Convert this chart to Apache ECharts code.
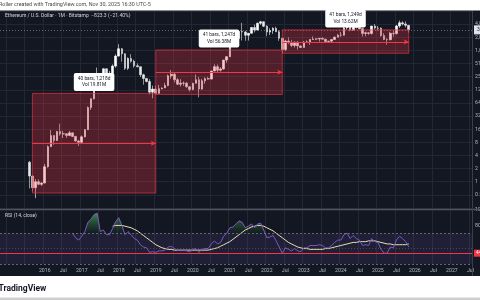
<!DOCTYPE html>
<html><head><meta charset="utf-8">
<script src="https://cdn.jsdelivr.net/npm/echarts@6/dist/echarts.min.js"></script>
<style>html,body{margin:0;padding:0;background:#fff}#c{width:480px;height:300px}</style>
</head><body><div id="c"></div>
<script>
// ---- data (monthly ETH/USD, first bar Aug 2015) ----
const firstYear = 2015, firstMonthNum = 8;
// [open, close, low, high]
const ohlc2015 = [[2.80,1.35,0.70,3.00],[1.35,0.73,0.60,1.40],[0.73,1.00,0.42,1.15],[1.00,0.87,0.83,1.13],[0.87,0.93,0.80,0.98]];
const ohlc2016 = [[0.93,2.21,0.93,2.55],[2.21,6.36,2.10,6.80],[6.36,11.4,6.30,15.3],[11.4,8.80,7.00,11.6],[8.80,14.1,8.70,14.6],[14.1,12.5,11.3,21.5],[12.5,12.6,10.0,14.7],[12.6,11.4,10.1,12.7],[11.4,13.2,11.1,14.6],[13.2,10.9,10.5,13.3],[10.9,8.6,8.3,11.3],[8.6,8.0,6.6,9.1]];
const ohlc2017 = [[8.0,10.7,7.9,11.5],[10.7,15.6,10.4,16.0],[15.6,50,15.5,53],[50,80,44,81],[80,230,77,230],[230,293,216,414],[293,201,130,296],[201,388,190,400],[388,302,200,395],[302,305,287,348],[305,447,288,490],[447,757,410,830]];
const ohlc2018 = [[757,1118,740,1420],[1118,856,565,1160],[856,397,365,880],[397,670,365,710],[670,577,535,840],[577,455,410,625],[455,433,420,515],[433,283,250,435],[283,233,168,300],[233,198,190,240],[198,113,100,225],[113,133,82,160]];
const ohlc2019 = [[133,106,101,160],[106,136,102,165],[136,141,131,145],[141,160,140,185],[160,268,155,287],[268,291,230,362],[291,218,190,316],[218,172,164,240],[172,181,152,225],[181,182,158,198],[182,151,141,192],[151,130,117,154]];
const ohlc2020 = [[130,180,125,186],[180,218,180,288],[218,133,86,253],[133,206,128,227],[206,231,176,247],[231,225,216,255],[225,346,224,348],[346,434,340,490],[434,360,309,488],[360,386,335,421],[386,615,373,622],[615,737,535,755]];
const ohlc2021 = [[737,1314,717,1475],[1314,1417,1300,2040],[1417,1918,1435,1945],[1918,2773,1930,2795],[2773,2710,1730,4380],[2710,2275,1700,2890],[2275,2535,1720,2550],[2535,3430,2450,3470],[3430,3000,2650,4020],[3000,4290,2970,4460],[4290,4630,3960,4870],[4630,3680,3510,4780]];
const ohlc2022 = [[3680,2690,2160,3870],[2690,2920,2300,3280],[2920,3280,2450,3480],[3280,2730,2720,3580],[2730,1940,1700,2960],[1940,1070,880,1970],[1070,1680,1000,1780],[1680,1550,1420,2030],[1550,1330,1220,1790],[1330,1570,1190,1660],[1570,1295,1070,1680],[1295,1196,1160,1350]];
const ohlc2023 = [[1196,1585,1190,1680],[1585,1605,1530,1740],[1605,1822,1370,1850],[1822,1870,1780,2140],[1870,1875,1760,1930],[1875,1935,1625,1930],[1935,1855,1830,2030],[1855,1645,1550,1870],[1645,1670,1530,1670],[1670,1815,1520,1865],[1815,2050,1770,2140],[2050,2280,2040,2440]];
const ohlc2024 = [[2280,2285,2100,2715],[2285,3340,2240,3520],[3340,3600,3060,4090],[3600,3010,2810,3730],[3010,3760,2860,3980],[3760,3430,3250,3880],[3430,3230,3090,3560],[3230,2510,2120,3280],[2510,2600,2150,2730],[2600,2510,2300,2720],[2510,3700,2360,3730],[3700,3330,3100,4110]];
const ohlc2025 = [[3330,3300,2920,3740],[3300,2240,2100,3430],[2240,1820,1760,2550],[1820,1795,1385,1950],[1795,2530,1750,2740],[2530,2490,2110,2880],[2490,3700,2370,3940],[3700,4390,3350,4950],[4390,4145,3820,4770],[4145,3850,3435,4750],[3850,3027,2620,3920]];

// RSI(14, close) per month from Aug 2015 (null before first value)
const rsiValues = [null,null,null,null,null,null,null,null,null,null,null,null,null,null,
  70,64,61, 66,72,84,88,94,96,72,74,68,68,76,85, 90,80,68,72,68,63,61,55,52,51,45,46,
  45,47,47,48,52,53,50,48,48,48,47,46, 49,50,45,49,50,50,56,60,56,58,66,70,
  77,78,82,86,84,77,79,82,77,82,83,74, 64,65,67,60,52,44,51,49,47,50,47,46,
  51,51,54,54,54,55,54,51,51,54,58,61, 61,68,70,63,67,63,61,54,55,54,63,59,
  58,49,44,44,52,51,61,66,63,59,52];
// RSI-based moving average per month from Aug 2015
const rsiMAValues = [null,null,null,null,null,null,null,null,null,null,null,null,null,null,
  null,null,null,null,null,null,null,null,null,null,null,null,null,
  79,80,80,80,79,78,77,75,73,70,67,64,61,58,55,53,51,50,49,49,48,48,48,48,48,48,48,48,48,48,48,48,
  49,50,51,53,55,57,59,62,65,68,71,74,76,78,79,80,80,79,77,75,73,70,67,64,61,58,56,54,52,51,
  50,50,49,49,49,49,49,50,50,51,52,53,54,55,56,57,58,58,59,59,59,60,60,60,59,58,57,56,56,55,55,55,55,55,56];

const rsiLevels = [70, 50, 30];
const userLevel = 44;
const lastPrice = 3027;
const boxes = [
  {start:'2015-09', end:'2019-01', low:0.55, high:106, mid:7.6, text:'40 bars, 1,218d\nVol 19.81M'},
  {start:'2019-01', end:'2022-06', low:100, high:1050, mid:324, text:'41 bars, 1,247d\nVol 56.38M'},
  {start:'2022-06', end:'2025-11', low:880, high:3027, mid:1600, text:'41 bars, 1,249d\nVol 13.62M'}
];
const titleText = 'Ethereum / U.S. Dollar · 1M · Bitstamp  −823.3 (−21.40%)';
const creditText = 'Roller created with TradingView.com, Nov 30, 2025 16:30 UTC-5';

// ---- build ----
const ohlc = [].concat(ohlc2015, ohlc2016, ohlc2017, ohlc2018, ohlc2019, ohlc2020, ohlc2021, ohlc2022, ohlc2023, ohlc2024, ohlc2025);
const padBefore = 9, padAfter = 20;
const total = padBefore + ohlc.length + padAfter;
const categories = [];
for (let k = 0; k < total; k++) {
  const m = (firstYear * 12 + firstMonthNum - 1) + (k - padBefore);
  const y = Math.floor(m / 12), mo = m % 12 + 1;
  categories.push(y + '-' + (mo < 10 ? '0' + mo : mo));
}
function pad(arr, empty) {
  const out = [];
  for (let k = 0; k < padBefore; k++) out.push(empty);
  arr.forEach(v => out.push(v == null ? empty : v));
  for (let k = 0; k < padAfter; k++) out.push(empty);
  return out;
}
const candleData = pad(ohlc, '-');
const rsiData = pad(rsiValues, '-');
const maData = pad(rsiMAValues, '-');
const obBase = pad(rsiValues.map(v => v == null ? null : 70), '-');
const obExcess = pad(rsiValues.map(v => v == null ? null : Math.max(v - 70, 0)), '-');
const emptyData = pad([], '-');

const gridFn = (i, v) => v.endsWith('-01') || v.endsWith('-07');
const labelFn = (i, v) => i >= padBefore && gridFn(i, v);
const FONT = 'Roboto, "Noto Sans", sans-serif';
const grid = '#232734';

const chart = echarts.init(document.getElementById('c'), null, {renderer: 'canvas'});
chart.setOption({
  backgroundColor: '#131722',
  animation: false,
  textStyle: {fontFamily: FONT},
  grid: [
    {left: 0, right: 8, top: 11, height: 197, containLabel: false, outerBoundsMode: 'none'},
    {left: 0, right: 8, top: 210, height: 54, containLabel: false, outerBoundsMode: 'none'}
  ],
  xAxis: [
    {type: 'category', gridIndex: 0, data: categories, boundaryGap: true,
     axisLine: {show: false}, axisTick: {show: false}, axisLabel: {show: false},
     splitLine: {show: true, interval: gridFn, lineStyle: {color: grid, width: 1}}},
    {type: 'category', gridIndex: 1, data: categories, boundaryGap: true,
     axisLine: {show: false}, axisTick: {show: false},
     axisLabel: {show: true, interval: labelFn, margin: 4, fontSize: 5.2, color: '#b2b5be', fontFamily: FONT,
       formatter: v => v.endsWith('-01') ? v.slice(0, 4) : 'Jul'},
     splitLine: {show: true, interval: gridFn, lineStyle: {color: grid, width: 1}}}
  ],
  yAxis: [
    {type: 'log', logBase: 2, gridIndex: 0, position: 'right', min: 0.25, max: 8192, interval: 1, splitNumber: 15,
     axisLine: {show: false}, axisTick: {show: false},
     axisLabel: {show: true, margin: 3, fontSize: 5.2, color: '#b2b5be', fontFamily: FONT, showMinLabel: false, showMaxLabel: false,
       formatter: v => v >= 1 ? Math.round(v).toLocaleString('en-US') : String(v)},
     splitLine: {show: true, lineStyle: {color: grid, width: 1}}},
    {type: 'value', gridIndex: 1, position: 'right', min: 30, max: 100, interval: 10,
     axisLine: {show: false}, axisTick: {show: false},
     axisLabel: {show: true, margin: 3, fontSize: 5.2, color: '#b2b5be', fontFamily: FONT,
       formatter: v => (v === 100 || v === 80) ? v.toFixed(2) : ''},
     splitLine: {show: false}}
  ],
  series: [
    {type: 'candlestick', xAxisIndex: 0, yAxisIndex: 0, data: candleData, z: 2,
     barWidth: '68%',
     itemStyle: {color: '#ffffff', color0: '#e8e8e8', borderColor: '#ffffff', borderColor0: '#e8e8e8', borderWidth: 0.6},
     markLine: {silent: true, symbol: 'none', z: 4,
       lineStyle: {color: 'rgba(200,200,210,0.45)', type: [1, 2], width: 1},
       label: {show: true, position: 'end', distance: 2, fontSize: 5, color: '#131722', backgroundColor: '#e0e3eb',
         padding: [2, 3], formatter: '3,027.0', fontFamily: FONT},
       data: [{yAxis: lastPrice}]}
    },
    {type: 'line', xAxisIndex: 0, yAxisIndex: 0, data: emptyData, symbol: 'none', z: 5, silent: true,
     markArea: {silent: true, z: 5,
       itemStyle: {color: 'rgba(242,54,69,0.28)', borderColor: 'rgba(242,54,69,0.8)', borderWidth: 0.8},
       label: {show: true, position: 'top', distance: 2, color: '#131722', backgroundColor: '#ffffff',
         borderRadius: 2, padding: [2.5, 4], fontSize: 4.8, lineHeight: 6.5, fontFamily: FONT, align: 'center',
         formatter: p => p.name},
       data: boxes.map(b => [{name: b.text, coord: [b.start, b.low]}, {coord: [b.end, b.high]}])},
     markLine: {silent: true, z: 5, symbol: ['none', 'arrow'], symbolSize: [4, 5],
       lineStyle: {color: '#f23645', width: 1, type: 'solid'}, label: {show: false},
       data: boxes.map(b => [{coord: [b.start, b.mid]}, {coord: [b.end, b.mid]}])}
    },
    // RSI overbought fill (stacked above 70)
    {type: 'line', xAxisIndex: 1, yAxisIndex: 1, data: obBase, stack: 'ob', symbol: 'none',
     lineStyle: {width: 0, opacity: 0}, silent: true, z: 1},
    {type: 'line', xAxisIndex: 1, yAxisIndex: 1, data: obExcess, stack: 'ob', symbol: 'none',
     lineStyle: {width: 0, opacity: 0}, silent: true, z: 1,
     areaStyle: {color: new echarts.graphic.LinearGradient(0, 211, 0, 233, [
       {offset: 0, color: 'rgba(90,220,100,1)'}, {offset: 1, color: 'rgba(40,120,60,0.1)'}], true)}},
    {type: 'line', xAxisIndex: 1, yAxisIndex: 1, data: maData, symbol: 'none', z: 3,
     lineStyle: {color: '#e9e2b8', width: 1},
     markLine: {silent: true, symbol: 'none', lineStyle: {opacity: 0},
       label: {show: true, position: 'end', distance: 2, fontSize: 4.8, color: '#131722', backgroundColor: '#f2c94c',
         padding: [1, 2], formatter: '56.00', fontFamily: FONT},
       data: [{yAxis: 58.5}]}},
    {type: 'line', xAxisIndex: 1, yAxisIndex: 1, data: rsiData, symbol: 'none', z: 3,
     lineStyle: {color: '#7e57c2', width: 1},
     markArea: {silent: true, itemStyle: {color: 'rgba(126,87,194,0.12)'},
       data: [[{yAxis: 70}, {yAxis: 30}]]},
     markLine: {silent: true, symbol: 'none',
       data: [
         {yAxis: rsiLevels[0], lineStyle: {color: 'rgba(120,123,134,0.8)', type: [2, 2], width: 1}, label: {show: false}},
         {yAxis: rsiLevels[1], lineStyle: {color: 'rgba(120,123,134,0.45)', type: [1, 2], width: 1}, label: {show: false}},
         {yAxis: rsiLevels[2], lineStyle: {color: 'rgba(120,123,134,0.8)', type: [2, 2], width: 1}, label: {show: false}},
         {yAxis: 52, lineStyle: {opacity: 0}, label: {show: true, position: 'end', distance: 2, fontSize: 4.8, color: '#fff',
           backgroundColor: '#7e57c2', padding: [1, 2], formatter: '52.00', fontFamily: FONT}},
         {yAxis: userLevel, lineStyle: {color: '#f23645', type: 'solid', width: 1.2}, label: {show: true, position: 'end', distance: 2,
           fontSize: 4.8, color: '#fff', backgroundColor: '#f23645', padding: [1, 2], formatter: '44.00', fontFamily: FONT}}
       ]}}
  ],
  graphic: [
    {type: 'rect', z: 100, shape: {x: 0, y: 0, width: 480, height: 10.5}, style: {fill: '#ffffff'}},
    {type: 'text', z: 101, x: -1, y: 2.3, style: {text: creditText, fill: '#4a4a4a', font: '5.4px ' + FONT}},
    {type: 'rect', z: 100, shape: {x: 0, y: 276, width: 480, height: 24}, style: {fill: '#ffffff'}},
    {type: 'rect', z: 100, shape: {x: 0, y: 297.5, width: 480, height: 2.5}, style: {fill: '#cfcfcf'}},
    {type: 'text', z: 101, x: -1.5, y: 284, style: {text: 'TradingView', fill: '#131722', font: 'bold 8.5px ' + FONT}},
    {type: 'text', z: 101, x: 5, y: 13.5, style: {text: titleText, fill: '#d1d4dc', font: '5px ' + FONT}},
    {type: 'text', z: 101, x: 5, y: 213.5, style: {text: 'RSI (14, close)', fill: '#d1d4dc', font: '5px ' + FONT}},
    {type: 'line', z: 90, shape: {x1: 0, y1: 209.5, x2: 480, y2: 209.5}, style: {stroke: '#50545f', lineWidth: 1.5}},
    {type: 'line', z: 90, shape: {x1: 472.5, y1: 10.5, x2: 472.5, y2: 276}, style: {stroke: '#3a3e49', lineWidth: 1}}
  ]
});
</script></body></html>
